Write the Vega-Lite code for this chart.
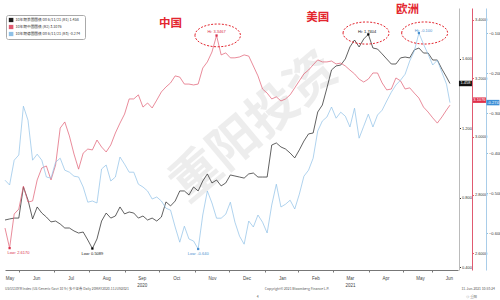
{
  "$schema": "https://vega.github.io/schema/vega-lite/v6.json",
  "width": 453,
  "height": 262,
  "autosize": "none",
  "padding": {"left": 5, "top": 8, "right": 42, "bottom": 30},
  "background": "white",
  "config": {"view": {"stroke": null}, "font": "Liberation Sans", "axis": {"grid": false}},
  "datasets": {
    "rates": [
      {"date": "2020-05-20", "us": 0.673, "cn": 2.686, "de": -0.468},
      {"date": "2020-05-24", "us": 0.679, "cn": 2.617, "de": -0.480},
      {"date": "2020-05-28", "us": 0.684, "cn": 2.734, "de": -0.418},
      {"date": "2020-06-01", "us": 0.684, "cn": 2.751, "de": -0.405},
      {"date": "2020-06-05", "us": 0.863, "cn": 2.830, "de": -0.283},
      {"date": "2020-06-09", "us": 0.788, "cn": 2.775, "de": -0.318},
      {"date": "2020-06-13", "us": 0.679, "cn": 2.779, "de": -0.418},
      {"date": "2020-06-17", "us": 0.748, "cn": 2.851, "de": -0.403},
      {"date": "2020-06-21", "us": 0.713, "cn": 2.892, "de": -0.418},
      {"date": "2020-06-25", "us": 0.690, "cn": 2.899, "de": -0.460},
      {"date": "2020-06-29", "us": 0.662, "cn": 2.851, "de": -0.463},
      {"date": "2020-07-03", "us": 0.667, "cn": 2.902, "de": -0.423},
      {"date": "2020-07-07", "us": 0.650, "cn": 3.029, "de": -0.413},
      {"date": "2020-07-11", "us": 0.627, "cn": 3.050, "de": -0.443},
      {"date": "2020-07-15", "us": 0.627, "cn": 3.002, "de": -0.448},
      {"date": "2020-07-19", "us": 0.610, "cn": 2.940, "de": -0.458},
      {"date": "2020-07-23", "us": 0.598, "cn": 2.888, "de": -0.460},
      {"date": "2020-07-27", "us": 0.604, "cn": 2.943, "de": -0.485},
      {"date": "2020-07-31", "us": 0.558, "cn": 2.957, "de": -0.523},
      {"date": "2020-08-04", "us": 0.5089, "cn": 2.954, "de": -0.520},
      {"date": "2020-08-08", "us": 0.564, "cn": 2.988, "de": -0.525},
      {"date": "2020-08-12", "us": 0.667, "cn": 2.964, "de": -0.440},
      {"date": "2020-08-16", "us": 0.713, "cn": 2.947, "de": -0.430},
      {"date": "2020-08-20", "us": 0.684, "cn": 2.971, "de": -0.470},
      {"date": "2020-08-24", "us": 0.696, "cn": 3.012, "de": -0.460},
      {"date": "2020-08-28", "us": 0.748, "cn": 3.046, "de": -0.410},
      {"date": "2020-09-01", "us": 0.708, "cn": 3.077, "de": -0.428},
      {"date": "2020-09-05", "us": 0.719, "cn": 3.129, "de": -0.448},
      {"date": "2020-09-09", "us": 0.713, "cn": 3.129, "de": -0.448},
      {"date": "2020-09-13", "us": 0.684, "cn": 3.143, "de": -0.478},
      {"date": "2020-09-17", "us": 0.696, "cn": 3.101, "de": -0.485},
      {"date": "2020-09-21", "us": 0.673, "cn": 3.115, "de": -0.495},
      {"date": "2020-09-25", "us": 0.684, "cn": 3.098, "de": -0.515},
      {"date": "2020-09-29", "us": 0.667, "cn": 3.125, "de": -0.510},
      {"date": "2020-10-03", "us": 0.690, "cn": 3.153, "de": -0.520},
      {"date": "2020-10-07", "us": 0.777, "cn": 3.170, "de": -0.538},
      {"date": "2020-10-11", "us": 0.754, "cn": 3.184, "de": -0.543},
      {"date": "2020-10-15", "us": 0.782, "cn": 3.208, "de": -0.585},
      {"date": "2020-10-19", "us": 0.840, "cn": 3.204, "de": -0.623},
      {"date": "2020-10-23", "us": 0.840, "cn": 3.180, "de": -0.583},
      {"date": "2020-10-27", "us": 0.817, "cn": 3.180, "de": -0.615},
      {"date": "2020-10-31", "us": 0.863, "cn": 3.177, "de": -0.620},
      {"date": "2020-11-04", "us": 0.840, "cn": 3.180, "de": -0.640},
      {"date": "2020-11-08", "us": 0.897, "cn": 3.235, "de": -0.555},
      {"date": "2020-11-12", "us": 0.938, "cn": 3.256, "de": -0.495},
      {"date": "2020-11-16", "us": 0.886, "cn": 3.290, "de": -0.525},
      {"date": "2020-11-20", "us": 0.903, "cn": 3.3467, "de": -0.563},
      {"date": "2020-11-24", "us": 0.869, "cn": 3.280, "de": -0.563},
      {"date": "2020-11-28", "us": 0.886, "cn": 3.287, "de": -0.553},
      {"date": "2020-12-02", "us": 0.932, "cn": 3.270, "de": -0.523},
      {"date": "2020-12-06", "us": 0.926, "cn": 3.270, "de": -0.573},
      {"date": "2020-12-10", "us": 0.920, "cn": 3.273, "de": -0.608},
      {"date": "2020-12-14", "us": 0.914, "cn": 3.280, "de": -0.628},
      {"date": "2020-12-18", "us": 0.938, "cn": 3.276, "de": -0.570},
      {"date": "2020-12-22", "us": 0.943, "cn": 3.242, "de": -0.585},
      {"date": "2020-12-26", "us": 0.920, "cn": 3.208, "de": -0.555},
      {"date": "2020-12-30", "us": 0.920, "cn": 3.163, "de": -0.573},
      {"date": "2021-01-03", "us": 0.920, "cn": 3.149, "de": -0.600},
      {"date": "2021-01-07", "us": 1.104, "cn": 3.129, "de": -0.530},
      {"date": "2021-01-11", "us": 1.116, "cn": 3.136, "de": -0.478},
      {"date": "2021-01-15", "us": 1.093, "cn": 3.122, "de": -0.535},
      {"date": "2021-01-19", "us": 1.081, "cn": 3.129, "de": -0.528},
      {"date": "2021-01-23", "us": 1.058, "cn": 3.143, "de": -0.518},
      {"date": "2021-01-27", "us": 1.030, "cn": 3.167, "de": -0.540},
      {"date": "2021-01-31", "us": 1.076, "cn": 3.191, "de": -0.503},
      {"date": "2021-02-04", "us": 1.127, "cn": 3.215, "de": -0.458},
      {"date": "2021-02-08", "us": 1.168, "cn": 3.228, "de": -0.443},
      {"date": "2021-02-12", "us": 1.173, "cn": 3.246, "de": -0.413},
      {"date": "2021-02-16", "us": 1.294, "cn": 3.263, "de": -0.345},
      {"date": "2021-02-20", "us": 1.334, "cn": 3.256, "de": -0.320},
      {"date": "2021-02-24", "us": 1.432, "cn": 3.256, "de": -0.310},
      {"date": "2021-02-28", "us": 1.536, "cn": 3.259, "de": -0.285},
      {"date": "2021-03-04", "us": 1.559, "cn": 3.249, "de": -0.313},
      {"date": "2021-03-08", "us": 1.564, "cn": 3.252, "de": -0.298},
      {"date": "2021-03-12", "us": 1.599, "cn": 3.242, "de": -0.308},
      {"date": "2021-03-16", "us": 1.668, "cn": 3.228, "de": -0.335},
      {"date": "2021-03-20", "us": 1.708, "cn": 3.215, "de": -0.288},
      {"date": "2021-03-24", "us": 1.668, "cn": 3.197, "de": -0.363},
      {"date": "2021-03-28", "us": 1.714, "cn": 3.187, "de": -0.333},
      {"date": "2021-04-01", "us": 1.7404, "cn": 3.197, "de": -0.303},
      {"date": "2021-04-05", "us": 1.662, "cn": 3.218, "de": -0.335},
      {"date": "2021-04-09", "us": 1.656, "cn": 3.218, "de": -0.305},
      {"date": "2021-04-13", "us": 1.628, "cn": 3.184, "de": -0.293},
      {"date": "2021-04-17", "us": 1.599, "cn": 3.160, "de": -0.270},
      {"date": "2021-04-21", "us": 1.570, "cn": 3.163, "de": -0.248},
      {"date": "2021-04-25", "us": 1.570, "cn": 3.201, "de": -0.230},
      {"date": "2021-04-29", "us": 1.605, "cn": 3.191, "de": -0.218},
      {"date": "2021-05-03", "us": 1.610, "cn": 3.163, "de": -0.203},
      {"date": "2021-05-07", "us": 1.605, "cn": 3.167, "de": -0.170},
      {"date": "2021-05-11", "us": 1.651, "cn": 3.149, "de": -0.145},
      {"date": "2021-05-15", "us": 1.662, "cn": 3.132, "de": -0.100},
      {"date": "2021-05-19", "us": 1.633, "cn": 3.101, "de": -0.128},
      {"date": "2021-05-23", "us": 1.633, "cn": 3.084, "de": -0.153},
      {"date": "2021-05-27", "us": 1.593, "cn": 3.064, "de": -0.180},
      {"date": "2021-05-31", "us": 1.593, "cn": 3.046, "de": -0.168},
      {"date": "2021-06-04", "us": 1.541, "cn": 3.067, "de": -0.198},
      {"date": "2021-06-08", "us": 1.495, "cn": 3.091, "de": -0.228},
      {"date": "2021-06-11", "us": 1.458, "cn": 3.1076, "de": -0.274}
    ]
  },
  "data": {"name": "rates"},
  "encoding": {
    "x": {
      "field": "date", "type": "temporal",
      "scale": {"type": "utc", "domain": [{"year": 2020, "month": 5, "date": 20, "utc": true}, {"year": 2021, "month": 6, "date": 18, "utc": true}]},
      "axis": {
        "title": null,
        "values": [
          {"year": 2020, "month": 5, "date": 24, "utc": true},
          {"year": 2020, "month": 6, "date": 16, "utc": true},
          {"year": 2020, "month": 7, "date": 16, "utc": true},
          {"year": 2020, "month": 8, "date": 16, "utc": true},
          {"year": 2020, "month": 9, "date": 16, "utc": true},
          {"year": 2020, "month": 10, "date": 16, "utc": true},
          {"year": 2020, "month": 11, "date": 16, "utc": true},
          {"year": 2020, "month": 12, "date": 16, "utc": true},
          {"year": 2021, "month": 1, "date": 16, "utc": true},
          {"year": 2021, "month": 2, "date": 14, "utc": true},
          {"year": 2021, "month": 3, "date": 16, "utc": true},
          {"year": 2021, "month": 4, "date": 16, "utc": true},
          {"year": 2021, "month": 5, "date": 16, "utc": true},
          {"year": 2021, "month": 6, "date": 10, "utc": true}
        ],
        "labelExpr": "utcmonth(datum.value) == 8 ? ['Sep', '2020'] : utcmonth(datum.value) == 2 ? ['Mar', '2021'] : utcFormat(datum.value, '%b')",
        "tickOffset": -17,
        "labelOffset": 17,
        "tickSize": 2,
        "tickColor": "#777",
        "domainColor": "#777",
        "labelFontSize": 4.5,
        "labelColor": "#444",
        "labelPadding": 3,
        "labelLineHeight": 7,
        "labelFlush": false,
        "labelOverlap": false,
        "labelBound": false
      }
    }
  },
  "resolve": {"scale": {"y": "independent"}},
  "layer": [
    {
      "layer": [
        {
          "data": {"values": [{"date": "2020-12-23", "us": 1.202, "text": "重阳投资"}]},
          "mark": {"type": "text", "angle": -40, "fontSize": 50, "font": "Noto Sans CJK SC", "fontWeight": "bold", "color": "#e8e8e8", "opacity": 0.75},
          "encoding": {
            "y": {"field": "us", "type": "quantitative"},
            "text": {"field": "text"}
          }
        },
        {
          "mark": {"type": "line", "strokeWidth": 0.7},
          "encoding": {
            "y": {
              "field": "us", "type": "quantitative",
              "scale": {"domain": [0.3855, 1.892], "nice": false, "zero": false},
              "axis": {"title": null, "orient": "right", "offset": 1, "values": [0.4, 0.6, 0.8, 1.0, 1.2, 1.4, 1.6, 1.8], "format": ".3f", "labelFontSize": 4, "labelColor": "#333", "tickSize": 1.5, "tickColor": "#333", "domainColor": "#bbbbbb", "labelPadding": 1}
            },
            "color": {
              "datum": "10年期美国国债 on 6/11/21 (R1)   1.458",
              "type": "nominal",
              "scale": {
                "domain": ["10年期美国国债 on 6/11/21 (R1)   1.458", "10年期中国国债 (R2)   3.1076", "10年期德国国债 on 6/11/21 (R3)   -0.274"],
                "range": ["#1e1e1e", "#e05a70", "#8ec0e6"]
              },
              "legend": {
                "title": null, "orient": "none", "legendX": 1, "legendY": 7,
                "fillColor": "white", "strokeColor": "#aaaaaa", "padding": 2.5, "cornerRadius": 2,
                "symbolType": "square", "symbolSize": 5, "symbolStrokeWidth": 2.5,
                "labelFontSize": 3.7, "labelFont": "Noto Sans CJK SC", "labelColor": "#333", "rowPadding": 2, "labelLimit": 200, "labelOffset": 2, "clipHeight": 5
              }
            }
          }
        },
        {
          "data": {"values": [{"date": "2021-03-30", "us": 1.748}]},
          "mark": {"type": "point", "shape": "M-1,0C-1,-0.265,-0.552,-0.48,0,-0.48C0.552,-0.48,1,-0.265,1,0C1,0.265,0.552,0.48,0,0.48C-0.552,0.48,-1,0.265,-1,0Z", "size": 2116, "filled": false, "stroke": "#e3262f", "strokeWidth": 1, "strokeDash": [2, 1.5], "opacity": 1},
          "encoding": {"y": {"field": "us", "type": "quantitative"}}
        },
        {
          "data": {"values": [{"date": "2021-04-01", "us": 1.7404}, {"date": "2020-08-04", "us": 0.5089}]},
          "mark": {"type": "point", "shape": "square", "size": 5, "filled": true, "color": "#000", "opacity": 1},
          "encoding": {"y": {"field": "us", "type": "quantitative"}}
        },
        {
          "data": {"values": [{"date": "2021-03-31", "us": 1.748, "text": "Hi: 1.7404"}]},
          "mark": {"type": "text", "fontSize": 4, "color": "#111", "dy": -1.5},
          "encoding": {"y": {"field": "us", "type": "quantitative"}, "text": {"field": "text"}}
        },
        {
          "data": {"values": [{"date": "2020-08-04", "us": 0.5089, "text": "Low: 0.5089"}]},
          "mark": {"type": "text", "fontSize": 4, "color": "#111", "dy": 5},
          "encoding": {"y": {"field": "us", "type": "quantitative"}, "text": {"field": "text"}}
        },
        {
          "data": {"values": [{"date": "2021-06-11", "us": 1.458}]},
          "mark": {"type": "point", "shape": "M-1,-0.42L1,-0.42L1,0.42L-1,0.42Z", "size": 169, "filled": true, "color": "#111", "opacity": 1, "xOffset": 15.5},
          "encoding": {"y": {"field": "us", "type": "quantitative"}}
        },
        {
          "data": {"values": [{"date": "2021-06-11", "us": 1.458, "text": "1.458"}]},
          "mark": {"type": "text", "fontSize": 4, "color": "white", "xOffset": 15.5},
          "encoding": {"y": {"field": "us", "type": "quantitative"}, "text": {"field": "text"}}
        },
        {
          "data": {"values": [
            {"date": "2020-10-11", "us": 1.800, "text": "中国"},
            {"date": "2021-02-16", "us": 1.835, "text": "美国"},
            {"date": "2021-05-05", "us": 1.880, "text": "欧洲"}
          ]},
          "mark": {"type": "text", "fontSize": 11.5, "font": "Noto Sans CJK SC", "fontWeight": "bold", "color": "#e3262f"},
          "encoding": {"y": {"field": "us", "type": "quantitative"}, "text": {"field": "text"}}
        },
        {
          "data": {"values": [
            {"date": "2020-05-20", "us": 0.276, "text": "USGG10YR Index (US Generic Govt 10 Yr) 多个证券  Daily 20MAY2020-11JUN2021"},
            {"date": "2021-01-01", "us": 0.276, "text": "Copyright© 2021 Bloomberg Finance L.P."},
            {"date": "2021-06-21", "us": 0.276, "text": "11-Jun-2021 10:53:24"},
            {"date": "2020-12-25", "us": 0.232, "text": "4"},
            {"date": "2021-06-25", "us": 0.232, "text": "◎ 重阳"}
          ]},
          "mark": {"type": "text", "fontSize": 3.4, "align": "left", "color": "#555", "font": "Noto Sans CJK SC"},
          "encoding": {"y": {"field": "us", "type": "quantitative"}, "text": {"field": "text"}}
        }
      ]
    },
    {
      "layer": [
        {
          "mark": {"type": "line", "strokeWidth": 0.7},
          "encoding": {
            "y": {
              "field": "cn", "type": "quantitative",
              "scale": {"domain": [2.542, 3.441], "nice": false, "zero": false},
              "axis": {"title": null, "orient": "right", "offset": 14, "values": [2.6, 2.7, 2.8, 2.9, 3.0, 3.1, 3.2, 3.3, 3.4], "format": ".4f", "labelFontSize": 4, "labelColor": "#333", "tickSize": 1.5, "tickColor": "#e05a70", "domainColor": "#e05a70", "labelPadding": 1}
            },
            "color": {"datum": "10年期中国国债 (R2)   3.1076", "type": "nominal"}
          }
        },
        {
          "data": {"values": [{"date": "2020-11-21", "cn": 3.347}]},
          "mark": {"type": "point", "shape": "M-1,0C-1,-0.28,-0.552,-0.5,0,-0.5C0.552,-0.5,1,-0.28,1,0C1,0.28,0.552,0.5,0,0.5C-0.552,0.5,-1,0.28,-1,0Z", "size": 2070, "filled": false, "stroke": "#e3262f", "strokeWidth": 1, "strokeDash": [2, 1.5], "opacity": 1},
          "encoding": {"y": {"field": "cn", "type": "quantitative"}}
        },
        {
          "data": {"values": [{"date": "2020-11-20", "cn": 3.3467}, {"date": "2020-05-24", "cn": 2.617}]},
          "mark": {"type": "point", "shape": "square", "size": 5, "filled": true, "color": "#d9304a", "opacity": 1},
          "encoding": {"y": {"field": "cn", "type": "quantitative"}}
        },
        {
          "data": {"values": [{"date": "2020-11-20", "cn": 3.3467, "text": "Hi: 3.3467"}]},
          "mark": {"type": "text", "fontSize": 4, "color": "#d9304a", "dy": -3},
          "encoding": {"y": {"field": "cn", "type": "quantitative"}, "text": {"field": "text"}}
        },
        {
          "data": {"values": [{"date": "2020-05-24", "cn": 2.617, "text": "Low: 2.6170"}]},
          "mark": {"type": "text", "fontSize": 4, "color": "#d9304a", "dy": 5, "align": "left", "dx": -2},
          "encoding": {"y": {"field": "cn", "type": "quantitative"}, "text": {"field": "text"}}
        },
        {
          "data": {"values": [{"date": "2021-06-11", "cn": 3.1076}]},
          "mark": {"type": "point", "shape": "M-1,-0.42L1,-0.42L1,0.42L-1,0.42Z", "size": 169, "filled": true, "color": "#e0304a", "opacity": 1, "xOffset": 29.5, "yOffset": -5},
          "encoding": {"y": {"field": "cn", "type": "quantitative"}}
        },
        {
          "data": {"values": [{"date": "2021-06-11", "cn": 3.1076, "text": "3.1076"}]},
          "mark": {"type": "text", "fontSize": 4, "color": "white", "xOffset": 29.5, "yOffset": -5},
          "encoding": {"y": {"field": "cn", "type": "quantitative"}, "text": {"field": "text"}}
        }
      ]
    },
    {
      "layer": [
        {
          "mark": {"type": "line", "strokeWidth": 0.7},
          "encoding": {
            "y": {
              "field": "de", "type": "quantitative",
              "scale": {"domain": [-0.6925, -0.0375], "nice": false, "zero": false},
              "axis": {"title": null, "orient": "right", "offset": 28, "values": [-0.6, -0.5, -0.4, -0.3, -0.2, -0.1], "format": ".3f", "labelFontSize": 4, "labelColor": "#333", "tickSize": 1.5, "tickColor": "#8ec0e6", "domainColor": "#a9cde9", "labelPadding": 1}
            },
            "color": {"datum": "10年期德国国债 on 6/11/21 (R3)   -0.274", "type": "nominal"}
          }
        },
        {
          "data": {"values": [{"date": "2021-05-20", "de": -0.100}]},
          "mark": {"type": "point", "shape": "M-1,0C-1,-0.265,-0.552,-0.48,0,-0.48C0.552,-0.48,1,-0.265,1,0C1,0.265,0.552,0.48,0,0.48C-0.552,0.48,-1,0.265,-1,0Z", "size": 2116, "filled": false, "stroke": "#e3262f", "strokeWidth": 1, "strokeDash": [2, 1.5], "opacity": 1},
          "encoding": {"y": {"field": "de", "type": "quantitative"}}
        },
        {
          "data": {"values": [{"date": "2021-05-15", "de": -0.100}, {"date": "2020-11-04", "de": -0.640}]},
          "mark": {"type": "point", "shape": "square", "size": 5, "filled": true, "color": "#4a90d0", "opacity": 1},
          "encoding": {"y": {"field": "de", "type": "quantitative"}}
        },
        {
          "data": {"values": [{"date": "2021-05-19", "de": -0.100, "text": "Hi: -0.100"}]},
          "mark": {"type": "text", "fontSize": 4, "color": "#4a90d0", "dy": -2},
          "encoding": {"y": {"field": "de", "type": "quantitative"}, "text": {"field": "text"}}
        },
        {
          "data": {"values": [{"date": "2020-11-04", "de": -0.640, "text": "Low: -0.640"}]},
          "mark": {"type": "text", "fontSize": 4, "color": "#4a90d0", "dy": 5},
          "encoding": {"y": {"field": "de", "type": "quantitative"}, "text": {"field": "text"}}
        },
        {
          "data": {"values": [{"date": "2021-06-11", "de": -0.274}]},
          "mark": {"type": "point", "shape": "M-1,-0.42L1,-0.42L1,0.42L-1,0.42Z", "size": 169, "filled": true, "color": "#3d8fd6", "opacity": 1, "xOffset": 43},
          "encoding": {"y": {"field": "de", "type": "quantitative"}}
        },
        {
          "data": {"values": [{"date": "2021-06-11", "de": -0.274, "text": "-0.274"}]},
          "mark": {"type": "text", "fontSize": 4, "color": "white", "xOffset": 43},
          "encoding": {"y": {"field": "de", "type": "quantitative"}, "text": {"field": "text"}}
        }
      ]
    }
  ]
}
